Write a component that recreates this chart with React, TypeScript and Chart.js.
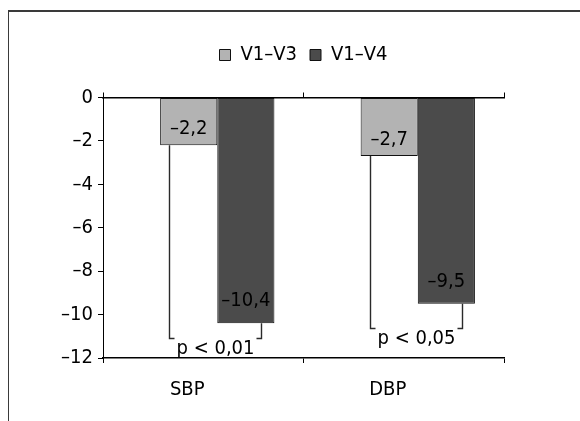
import { useEffect, useRef } from 'react';
import { Chart, registerables } from 'chart.js';

Chart.register(...registerables);

const categories = ['SBP', 'DBP'];
const seriesNames = ['V1–V3', 'V1–V4'];
const v1v3 = [-2.2, -2.7];
const v1v4 = [-10.4, -9.5];
const pLabels = ['p < 0,01', 'p < 0,05'];
const bracketLevels = [-11.1, -10.6];
const yMin = -12;
const yMax = 0;
const yStep = 2;

const FONT = "'Liberation Sans Narrow', 'Arial Narrow', 'DejaVu Sans Condensed', sans-serif";
const FONT_SIZE = 20;
const labelLift = [11, 17];

const fmt = (v: number) => (v < 0 ? '–' : '') + Math.abs(v).toFixed(1).replace('.', ',');
const fmtTick = (v: number) => (v < 0 ? '–' : '') + String(Math.abs(v));

const annotate = {
  id: 'annotate',
  afterDatasetsDraw(chart: any) {
    const ctx = chart.ctx;
    const ys = chart.scales.y;
    const m0 = chart.getDatasetMeta(0);
    const m1 = chart.getDatasetMeta(1);
    ctx.save();
    ctx.font = `${FONT_SIZE}px ${FONT}`;
    ctx.fillStyle = '#000';
    ctx.textAlign = 'center';
    ctx.textBaseline = 'alphabetic';
    [m0, m1].forEach((meta: any, di: number) => {
      meta.data.forEach((bar: any, i: number) => {
        const p = bar.getProps(['x', 'y'], true);
        const val = chart.data.datasets[di].data[i].y;
        ctx.fillText(fmt(val), p.x, p.y - labelLift[di]);
      });
    });
    ctx.strokeStyle = '#2a2a2a';
    ctx.lineWidth = 1.4;
    categories.forEach((_, i) => {
      const a = m0.data[i].getProps(['x', 'y', 'width'], true);
      const b = m1.data[i].getProps(['x', 'y', 'width'], true);
      const xl = Math.round(a.x - a.width * 0.34) + 0.5;
      const xr = Math.round(b.x + b.width * 0.27) + 0.5;
      const yl = Math.round(ys.getPixelForValue(bracketLevels[i])) + 0.5;
      const tw = ctx.measureText(pLabels[i]).width;
      const cx = (xl + xr) / 2;
      ctx.beginPath();
      ctx.moveTo(xl, a.y);
      ctx.lineTo(xl, yl);
      ctx.lineTo(cx - tw / 2 - 2, yl);
      ctx.moveTo(cx + tw / 2 + 2, yl);
      ctx.lineTo(xr, yl);
      ctx.lineTo(xr, b.y);
      ctx.stroke();
      ctx.fillText(pLabels[i], cx, yl + 15);
    });
    ctx.restore();
  },
};

export default function App() {
  const ref = useRef<HTMLCanvasElement>(null);
  useEffect(() => {
    if (!ref.current) return;
    Chart.defaults.font.family = FONT;
    Chart.defaults.font.size = FONT_SIZE;
    Chart.defaults.color = '#000';
    const chart = new Chart(ref.current, {
      type: 'bar',
      data: {
        datasets: [
          {
            label: seriesNames[0],
            data: v1v3.map((v, i) => ({ x: i, y: v })),
            backgroundColor: '#b3b3b3',
            borderColor: '#111',
            borderWidth: 1,
            borderSkipped: false,
            xAxisID: 'xb',
          },
          {
            label: seriesNames[1],
            data: v1v4.map((v, i) => ({ x: i, y: v })),
            backgroundColor: '#4b4b4b',
            borderColor: '#111',
            borderWidth: 1,
            borderSkipped: false,
            xAxisID: 'xb',
          },
        ] as any,
      },
      options: {
        animation: false,
        responsive: false,
        devicePixelRatio: 1,
        datasets: { bar: { categoryPercentage: 0.57, barPercentage: 1 } },
        layout: { padding: { top: 20, left: 0, right: 76, bottom: 0 } },
        scales: {
          xb: {
            type: 'linear',
            display: false,
            offset: false,
            grid: { offset: false },
            min: -0.57,
            max: 1.43,
            afterBuildTicks: (s: any) => {
              s.ticks = categories.map((_, i) => ({ value: i }));
            },
          },
          x: {
            type: 'category',
            labels: categories,
            position: 'bottom',
            offset: true,
            grid: { offset: true, drawOnChartArea: false, tickLength: 5, color: '#000' },
            border: { color: '#000', width: 1.5 },
            ticks: { color: '#000', font: { size: FONT_SIZE }, padding: 15, labelOffset: -16, maxRotation: 0 },
            afterFit: (s: any) => {
              s.height = 63;
            },
          },
          xt: {
            type: 'category',
            labels: categories,
            position: 'top',
            offset: true,
            grid: { offset: true, drawOnChartArea: false, tickLength: 5, color: '#000' },
            border: { color: '#000', width: 1.5 },
            ticks: { display: false },
            afterFit: (s: any) => {
              s.height = 22.5;
            },
          },
          y: {
            type: 'linear',
            min: yMin,
            max: yMax,
            ticks: { stepSize: yStep, color: '#000', font: { size: FONT_SIZE }, padding: 5, callback: (v: any) => fmtTick(Number(v)) },
            grid: { drawOnChartArea: false, tickLength: 5, color: '#000' },
            border: { color: '#000', width: 1 },
            afterFit: (s: any) => {
              s.width = 94;
            },
          },
        } as any,
        plugins: {
          legend: {
            position: 'top',
            fullSize: false,
            labels: { boxWidth: 11, boxHeight: 11, padding: 13, color: '#000', font: { size: FONT_SIZE } },
          },
          tooltip: { enabled: false },
        },
      },
      plugins: [annotate],
    } as any);
    return () => chart.destroy();
  }, []);
  return (
    <div
      style={{
        position: 'absolute',
        left: 8,
        top: 10,
        width: 572,
        height: 411,
        borderTop: '2px solid #3a3a3a',
        borderLeft: '1px solid #3a3a3a',
        boxSizing: 'border-box',
        overflow: 'hidden',
        background: '#fff',
      }}
    >
      <canvas ref={ref} width={571} height={409} style={{ display: 'block' }} />
    </div>
  );
}
